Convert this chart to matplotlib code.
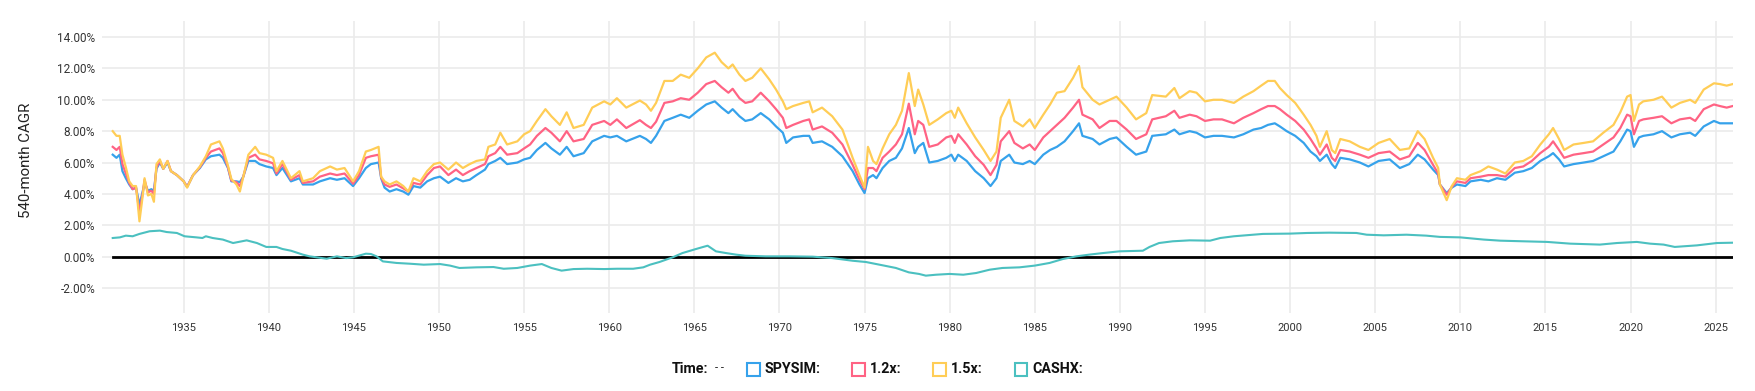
import matplotlib
matplotlib.use('Agg')
import matplotlib.pyplot as plt
from matplotlib.patches import Rectangle
from matplotlib.ticker import FuncFormatter

plt.rcParams['font.family'] = ['Roboto', 'DejaVu Sans']

# 540-month rolling CAGR (%)
years = [1930.83, 1931.05, 1931.24, 1931.4, 1931.6, 1931.8, 1932.0, 1932.2, 1932.4, 1932.6,
         1932.7, 1932.9, 1933.1, 1933.25, 1933.4, 1933.6, 1933.8, 1934.05, 1934.25, 1934.6,
         1935.0, 1935.2, 1935.55, 1935.95, 1936.3, 1936.6, 1937.1, 1937.3, 1937.6, 1937.8,
         1938.1, 1938.3, 1938.5, 1938.8, 1939.2, 1939.45, 1939.85, 1940.25, 1940.45, 1940.8,
         1941.3, 1941.8, 1942.0, 1942.6, 1943.0, 1943.6, 1944.0, 1944.45, 1944.95, 1945.3,
         1945.7, 1946.0, 1946.45, 1946.6, 1946.8, 1947.1, 1947.5, 1947.9, 1948.2, 1948.5,
         1948.9, 1949.3, 1949.7, 1950.06, 1950.55, 1951.0, 1951.4, 1951.8, 1952.2, 1952.7,
         1952.9, 1953.3, 1953.6, 1954.0, 1954.6, 1955.0, 1955.35, 1955.75, 1956.25, 1956.6,
         1957.1, 1957.5, 1957.9, 1958.5, 1959.0, 1959.7, 1960.06, 1960.45, 1961.0, 1961.8,
         1962.16, 1962.45, 1962.75, 1963.24, 1963.73, 1964.2, 1964.7, 1965.2, 1965.7, 1966.2,
         1966.6, 1967.0, 1967.25, 1967.65, 1968.0, 1968.4, 1968.9, 1969.4, 1969.8, 1970.2,
         1970.4, 1970.8, 1971.4, 1971.75, 1971.95, 1972.5, 1973.1, 1973.7, 1974.3, 1974.7,
         1975.0, 1975.2, 1975.5, 1975.7, 1976.06, 1976.45, 1976.84, 1977.2, 1977.6, 1977.95,
         1978.15, 1978.45, 1978.8, 1979.3, 1979.8, 1980.1, 1980.3, 1980.5, 1981.0, 1981.5,
         1982.0, 1982.4, 1982.75, 1983.0, 1983.5, 1983.8, 1984.3, 1984.7, 1985.0, 1985.5,
         1985.9, 1986.3, 1986.75, 1987.25, 1987.6, 1987.8, 1988.4, 1988.8, 1989.4, 1989.8,
         1990.4, 1990.95, 1991.55, 1991.9, 1992.7, 1993.2, 1993.5, 1994.1, 1994.5, 1995.0,
         1995.5, 1996.0, 1996.7, 1997.25, 1997.85, 1998.3, 1998.7, 1999.1, 1999.4, 1999.8,
         2000.3, 2000.8, 2001.2, 2001.55, 2001.75, 2002.15, 2002.45, 2002.65, 2002.95, 2003.5,
         2004.1, 2004.6, 2005.2, 2005.85, 2006.45, 2007.0, 2007.5, 2007.9, 2008.4, 2008.7,
         2008.8, 2009.2, 2009.5, 2009.8, 2010.3, 2010.6, 2011.2, 2011.65, 2012.15, 2012.65,
         2013.2, 2013.7, 2014.2, 2014.7, 2015.2, 2015.45, 2015.8, 2016.1, 2016.65, 2017.25,
         2017.8, 2018.4, 2019.0, 2019.4, 2019.8, 2020.0, 2020.2, 2020.5, 2020.75, 2021.35,
         2021.85, 2022.4, 2022.9, 2023.5, 2023.8, 2024.3, 2024.9, 2025.25, 2025.65, 2026.0]

spysim = [6.5, 6.3, 6.5, 5.45, 5.0, 4.6, 4.3, 4.4, 3.3, 4.2,
          4.7, 4.2, 4.3, 4.2, 5.6, 6.0, 5.6, 6.0, 5.45, 5.2,
          4.8, 4.45, 5.2, 5.65, 6.2, 6.4, 6.5, 6.3, 5.65, 4.8,
          4.8, 4.75, 5.1, 6.1, 6.1, 5.9, 5.75, 5.65, 5.2, 5.65,
          4.8, 5.0, 4.6, 4.6, 4.8, 5.0, 4.9, 5.0, 4.5, 5.0,
          5.65, 5.9, 6.0, 5.0, 4.4, 4.15, 4.3, 4.15, 3.95, 4.5,
          4.4, 4.8, 5.0, 5.1, 4.7, 5.0, 4.8, 4.9, 5.2, 5.55,
          5.9, 6.1, 6.3, 5.9, 6.0, 6.2, 6.3, 6.8, 7.25, 6.9,
          6.5, 7.0, 6.4, 6.6, 7.35, 7.7, 7.6, 7.7, 7.35, 7.7,
          7.5, 7.25, 7.7, 8.65, 8.85, 9.05, 8.85, 9.3, 9.7, 9.9,
          9.5, 9.15, 9.4, 8.95, 8.65, 8.75, 9.15, 8.75, 8.3, 7.9,
          7.25, 7.6, 7.7, 7.7, 7.25, 7.35, 7.0, 6.4, 5.45, 4.6,
          4.05, 5.0, 5.2, 5.0, 5.65, 6.1, 6.3, 6.9, 8.2, 6.6,
          7.0, 7.25, 6.0, 6.1, 6.3, 6.5, 6.1, 6.5, 6.1, 5.45,
          5.0, 4.5, 5.0, 6.1, 6.5, 6.0, 5.9, 6.1, 5.9, 6.5,
          6.8, 7.0, 7.35, 8.0, 8.5, 7.7, 7.5, 7.15, 7.5, 7.6,
          7.0, 6.5, 6.7, 7.7, 7.8, 8.1, 7.8, 8.0, 7.9, 7.6,
          7.7, 7.7, 7.6, 7.8, 8.1, 8.2, 8.4, 8.5, 8.3, 8.0,
          7.7, 7.25, 6.7, 6.4, 6.1, 6.5, 5.9, 5.65, 6.3, 6.2,
          6.0, 5.75, 6.1, 6.2, 5.65, 5.9, 6.5, 6.2, 5.55, 5.2,
          4.6, 4.05, 4.4, 4.6, 4.5, 4.8, 4.9, 4.8, 5.0, 4.9,
          5.35, 5.45, 5.65, 6.1, 6.4, 6.6, 6.2, 5.75, 5.9, 6.0,
          6.1, 6.4, 6.7, 7.35, 8.1, 8.0, 7.0, 7.6, 7.7, 7.8,
          8.0, 7.6, 7.8, 7.9, 7.7, 8.3, 8.65, 8.5, 8.5, 8.5]

lev_12 = [7.0, 6.8, 7.0, 5.9, 5.3, 4.7, 4.3, 4.4, 2.8, 4.1,
          4.9, 4.1, 4.2, 4.0, 5.7, 6.1, 5.6, 6.1, 5.45, 5.2,
          4.8, 4.45, 5.2, 5.7, 6.3, 6.7, 6.9, 6.6, 5.7, 4.85,
          4.75, 4.5, 5.1, 6.3, 6.5, 6.2, 6.1, 5.95, 5.3, 5.9,
          4.9, 5.2, 4.7, 4.8, 5.1, 5.3, 5.2, 5.3, 4.65, 5.2,
          6.3, 6.4, 6.5, 5.05, 4.6, 4.45, 4.6, 4.35, 4.15, 4.7,
          4.6, 5.2, 5.65, 5.75, 5.2, 5.55, 5.2, 5.45, 5.65, 5.9,
          6.4, 6.6, 7.0, 6.5, 6.6, 6.9, 7.15, 7.7, 8.2, 7.9,
          7.35, 8.0, 7.35, 7.5, 8.4, 8.65, 8.4, 8.75, 8.2, 8.7,
          8.4, 8.2, 8.6, 9.8, 9.9, 10.1, 10.0, 10.45, 11.0, 11.2,
          10.8, 10.45, 10.7, 10.1, 9.8, 9.9, 10.45, 9.9, 9.4, 8.85,
          8.2, 8.4, 8.65, 8.75, 8.1, 8.3, 7.9, 7.15, 5.85, 4.9,
          4.3, 5.65, 5.65, 5.45, 6.3, 6.7, 7.15, 7.8, 9.75, 7.8,
          8.65, 8.4, 7.0, 7.15, 7.6, 7.7, 7.25, 7.8, 7.15, 6.4,
          5.85, 5.2, 5.85, 7.35, 8.0, 7.25, 6.9, 7.15, 6.8, 7.6,
          8.0, 8.4, 8.85, 9.5, 10.0, 9.05, 8.75, 8.2, 8.65, 8.65,
          8.1, 7.5, 7.8, 8.75, 8.95, 9.3, 8.85, 9.05, 8.95, 8.65,
          8.75, 8.75, 8.5, 8.85, 9.15, 9.4, 9.6, 9.6, 9.4, 9.05,
          8.65, 8.1, 7.5, 6.9, 6.5, 7.15, 6.3, 6.1, 6.8, 6.7,
          6.5, 6.3, 6.6, 6.7, 6.2, 6.4, 7.25, 6.8, 5.85, 5.3,
          4.6, 3.95, 4.45, 4.8, 4.7, 5.0, 5.1, 5.2, 5.2, 5.1,
          5.65, 5.75, 6.1, 6.6, 7.0, 7.35, 6.8, 6.3, 6.5, 6.6,
          6.7, 7.15, 7.6, 8.2, 9.05, 8.95, 7.8, 8.65, 8.75, 8.85,
          8.95, 8.5, 8.75, 8.85, 8.65, 9.4, 9.7, 9.6, 9.5, 9.6]

lev_15 = [8.0, 7.7, 7.7, 6.5, 5.7, 4.8, 4.5, 4.5, 2.25, 3.95,
          5.0, 3.9, 4.0, 3.5, 5.9, 6.2, 5.6, 6.1, 5.45, 5.2,
          4.8, 4.4, 5.2, 5.75, 6.4, 7.15, 7.35, 6.9, 5.8, 4.95,
          4.6, 4.15, 5.1, 6.5, 7.0, 6.6, 6.5, 6.3, 5.45, 6.1,
          5.0, 5.45, 4.8, 5.0, 5.45, 5.75, 5.55, 5.65, 4.8, 5.45,
          6.7, 6.8, 7.0, 5.1, 4.8, 4.6, 4.8, 4.5, 4.15, 5.0,
          4.8, 5.45, 5.9, 6.0, 5.55, 6.0, 5.65, 5.9, 6.1, 6.2,
          7.0, 7.15, 7.9, 7.15, 7.35, 7.8, 8.0, 8.65, 9.4, 8.95,
          8.4, 9.2, 8.2, 8.4, 9.5, 9.9, 9.7, 10.1, 9.5, 9.95,
          9.7, 9.3, 9.8, 11.2, 11.2, 11.6, 11.4, 12.0, 12.7, 13.0,
          12.4, 12.0, 12.25, 11.6, 11.2, 11.4, 12.0, 11.3, 10.65, 9.9,
          9.4, 9.6, 9.8, 9.9, 9.2, 9.5, 8.95, 8.1, 6.3, 5.2,
          4.4, 7.0, 6.1, 5.9, 6.9, 7.8, 8.4, 9.3, 11.7, 9.6,
          10.65, 9.7, 8.4, 8.75, 9.15, 9.3, 8.85, 9.5, 8.5, 7.6,
          6.8, 6.1, 6.7, 8.85, 10.0, 8.65, 8.3, 8.75, 8.2, 9.05,
          9.7, 10.45, 10.55, 11.4, 12.15, 10.8, 10.0, 9.7, 10.0, 10.2,
          9.5, 8.75, 9.15, 10.3, 10.2, 10.75, 10.1, 10.55, 10.45, 9.9,
          10.0, 10.0, 9.8, 10.2, 10.55, 10.9, 11.2, 11.2, 10.75, 10.3,
          9.8, 9.05, 8.4, 7.7, 7.0, 8.0, 6.8, 6.6, 7.5, 7.35,
          7.0, 6.8, 7.25, 7.5, 6.8, 6.9, 8.0, 7.5, 6.3, 5.65,
          4.6, 3.6, 4.5, 5.0, 4.9, 5.2, 5.45, 5.75, 5.55, 5.3,
          6.0, 6.1, 6.4, 7.15, 7.8, 8.2, 7.5, 6.8, 7.15, 7.25,
          7.35, 7.9, 8.4, 9.2, 10.2, 10.3, 8.65, 9.7, 9.9, 10.0,
          10.2, 9.5, 9.8, 10.0, 9.8, 10.65, 11.05, 11.0, 10.9, 11.0]

cash_years = [1930.83, 1931.25, 1931.6, 1932.0, 1932.4, 1933.0, 1933.6, 1934.0, 1934.6, 1935.05,
              1935.75, 1936.1, 1936.3, 1936.7, 1937.3, 1937.9, 1938.7, 1939.3, 1939.85, 1940.45,
              1940.8, 1941.3, 1942.0, 1942.4, 1942.8, 1943.4, 1944.0, 1944.55, 1944.95, 1945.7,
              1946.0, 1946.33, 1946.7, 1947.5, 1948.3, 1949.1, 1950.06, 1950.65, 1951.2, 1952.2,
              1953.2, 1953.8, 1954.6, 1955.35, 1956.04, 1956.6, 1957.2, 1957.9, 1958.7, 1959.7,
              1960.45, 1961.4, 1962.0, 1962.4, 1962.95, 1963.73, 1964.3, 1965.1, 1965.78, 1966.27,
              1966.86, 1967.45, 1968.0, 1969.2, 1970.6, 1971.95, 1973.1, 1974.3, 1975.08, 1976.06,
              1976.84, 1977.6, 1978.2, 1978.6, 1979.2, 1980.0, 1980.8, 1981.56, 1982.35, 1983.1,
              1984.1, 1985.0, 1985.87, 1986.65, 1987.44, 1988.2, 1989.0, 1989.98, 1991.35, 1991.74,
              1992.3, 1993.1, 1994.1, 1995.3, 1995.9, 1996.7, 1998.4, 2000.0, 2001.0, 2002.3,
              2003.9, 2004.5, 2005.5, 2006.84, 2008.0, 2008.8, 2010.0, 2011.37, 2012.35, 2013.7,
              2015.1, 2016.46, 2018.2, 2019.2, 2020.37, 2021.15, 2021.94, 2022.6, 2023.1, 2023.9,
              2025.07, 2026.0]

cashx = [1.19, 1.23, 1.34, 1.3, 1.45, 1.62, 1.66, 1.57, 1.51, 1.3,
         1.23, 1.19, 1.3, 1.19, 1.09, 0.87, 1.04, 0.87, 0.62, 0.62,
         0.49, 0.38, 0.13, 0.02, -0.04, -0.13, 0.02, -0.09, -0.04, 0.19,
         0.17, 0.02, -0.3, -0.4, -0.45, -0.51, -0.47, -0.57, -0.72, -0.68,
         -0.66, -0.77, -0.72, -0.57, -0.47, -0.72, -0.89, -0.79, -0.77, -0.79,
         -0.77, -0.77, -0.68, -0.51, -0.34, -0.04, 0.23, 0.49, 0.70, 0.34,
         0.23, 0.13, 0.06, 0.02, 0.02, 0.0, -0.09, -0.26, -0.34, -0.55,
         -0.72, -1.0, -1.1, -1.21, -1.15, -1.1, -1.15, -1.04, -0.83, -0.72,
         -0.68, -0.57, -0.40, -0.15, 0.02, 0.13, 0.23, 0.34, 0.38, 0.62,
         0.87, 0.98, 1.04, 1.02, 1.19, 1.3, 1.45, 1.47, 1.51, 1.53,
         1.51, 1.40, 1.36, 1.40, 1.34, 1.26, 1.23, 1.09, 1.02, 0.98,
         0.94, 0.83, 0.77, 0.87, 0.94, 0.83, 0.77, 0.62, 0.66, 0.72,
         0.87, 0.89]

xticks = list(range(1935, 2030, 5))
yticks = list(range(-2, 16, 2))

W, H = 1756, 391
fig = plt.figure(figsize=(W / 100, H / 100), dpi=100)
ax = fig.add_axes([102 / W, 1 - 313 / H, (1733 - 102) / W, (313 - 21) / H])

ax.plot([years[0], years[-1]], [0, 0], color='black', lw=2, zorder=2)
ax.plot(years, spysim, color='#36a2eb', lw=1.6, zorder=3)
ax.plot(years, lev_12, color='#ff6384', lw=1.6, zorder=4)
ax.plot(years, lev_15, color='#ffcd56', lw=1.6, zorder=5)
ax.plot(cash_years, cashx, color='#4bc0c0', lw=1.5, zorder=6)

ax.set_xlim(1930.2, 2026.02)
ax.set_ylim(-3.59, 15.02)
ax.set_xticks(xticks)
ax.set_yticks(yticks)
ax.yaxis.set_major_formatter(FuncFormatter(lambda v, p: '%.2f%%' % v))
ax.grid(True, color='#ebebeb', lw=1.2)
ax.set_axisbelow(True)
for s in ax.spines.values():
    s.set_visible(False)
ax.tick_params(length=0, labelcolor='#333333')
ax.tick_params(axis='y', pad=5, labelsize=8.5)
ax.tick_params(axis='x', pad=7, labelsize=8)
ax.set_ylabel('540-month CAGR', fontsize=10.8, color='#222222')
ax.yaxis.set_label_coords((33 - 102) / 1631, (313 - 160.5) / 292)

# legend row
ly = 1 - 369 / H
fig.text(672 / W, ly, 'Time:', fontsize=10.3, fontweight='bold', va='center', color='#111111')
fig.text(715 / W, 1 - 368 / H, '- -', fontsize=8, va='center', color='#111111')
items = [('SPYSIM:', '#36a2eb', 747.3), ('1.2x:', '#ff6384', 852.3), ('1.5x:', '#ffcd56', 933.3), ('CASHX:', '#4bc0c0', 1015)]
for label, color, x in items:
    fig.patches.append(Rectangle((x / W, 1 - 375.5 / H), 12.5 / W, 13 / H, transform=fig.transFigure,
                                 facecolor='white', edgecolor=color, lw=1.5))
    fig.text((x + 17.7) / W, ly, label, fontsize=10.3, fontweight='bold', va='center', color='#111111')

fig.savefig('out.png', dpi=100)
